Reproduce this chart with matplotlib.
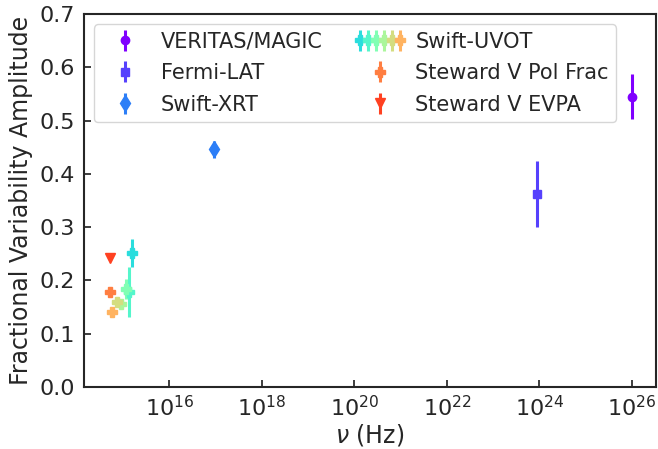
import numpy as np
import matplotlib
matplotlib.use("Agg")
import matplotlib.pyplot as plt
from matplotlib.legend_handler import HandlerTuple

# ---- data ----
veritas_nu = [1.0e26]
veritas_f = [0.545]
veritas_e = [0.042]

fermi_nu = [9.0e23]
fermi_f = [0.362]
fermi_e = [0.062]

xrt_nu = [9.5e16]
xrt_f = [0.446]
xrt_e = [0.016]

uvot_filters = ["W2", "M2", "W1", "U", "B", "V"]
uvot_nu = [1.58e15, 1.37e15, 1.19e15, 8.9e14, 7.6e14, 5.8e14]
uvot_f = [0.252, 0.178, 0.184, 0.155, 0.159, 0.141]
uvot_e = [0.026, 0.047, 0.018, 0.005, 0.005, 0.005]

steward_nu = [5.3e14]
polfrac_f = [0.179]
polfrac_e = [0.004]
evpa_f = [0.243]
evpa_e = [0.003]

labels = ["VERITAS/MAGIC", "Fermi-LAT", "Swift-XRT", "Swift-UVOT",
          "Steward V Pol Frac", "Steward V EVPA"]

# ---- style ----
dark = "#262626"
plt.rcParams.update({
    "font.family": ["DejaVu Sans"],
    "text.color": dark,
    "axes.labelcolor": dark,
    "xtick.color": dark,
    "ytick.color": dark,
    "axes.edgecolor": dark,
})

colors = plt.cm.rainbow(np.linspace(0, 1, 13))

fig = plt.figure(figsize=(6.58, 4.49), dpi=100)
ax = fig.add_axes([0.127, 0.138, 0.870, 0.831])

ekw = dict(linestyle="none", elinewidth=2.2, capsize=0, markersize=6)

h_ver = ax.errorbar(veritas_nu, veritas_f, yerr=veritas_e, marker="o",
                    color=colors[0], **ekw)
h_fer = ax.errorbar(fermi_nu, fermi_f, yerr=fermi_e, marker="s",
                    color=colors[1], **ekw)
h_xrt = ax.errorbar(xrt_nu, xrt_f, yerr=xrt_e, marker="d",
                    color=colors[2], **{**ekw, "markersize": 8})
h_uvot = []
for i in range(len(uvot_nu)):
    h = ax.errorbar([uvot_nu[i]], [uvot_f[i]], yerr=[uvot_e[i]], marker="P",
                    color=colors[4 + i], **{**ekw, "markersize": 6.5})
    h_uvot.append(h)
h_pol = ax.errorbar(steward_nu, polfrac_f, yerr=polfrac_e, marker="P",
                    color=colors[10], **{**ekw, "markersize": 6.5})
h_evpa = ax.errorbar(steward_nu, evpa_f, yerr=evpa_e, marker="v",
                     color=colors[11], **{**ekw, "markersize": 7})

ax.set_xscale("log")
ax.set_xlim(10**14.15, 10**26.52)
ax.set_ylim(0.0, 0.7)
ax.set_xticks([1e16, 1e18, 1e20, 1e22, 1e24, 1e26])
ax.minorticks_off()
ax.set_yticks(np.arange(0, 0.71, 0.1))
ax.tick_params(direction="in", length=5, width=1.25, labelsize=16, pad=6)
for s in ax.spines.values():
    s.set_linewidth(1.5)

ax.set_xlabel(r"$\nu$ (Hz)", fontsize=17, labelpad=1)
ax.set_ylabel("Fractional Variability Amplitude", fontsize=17, labelpad=5)

handles = [h_ver, h_fer, h_xrt, tuple(h_uvot), h_pol, h_evpa]
leg = ax.legend(handles, labels, loc="upper left", ncol=2, fontsize=15,
                handlelength=2.3, handletextpad=0.55, columnspacing=1.6,
                borderaxespad=0.5, labelspacing=0.55, borderpad=0.35,
                handler_map={tuple: HandlerTuple(ndivide=None, pad=0)},
                frameon=True, fancybox=True, framealpha=0.8, edgecolor="#cccccc")

fig.savefig("out.png", dpi=100)
